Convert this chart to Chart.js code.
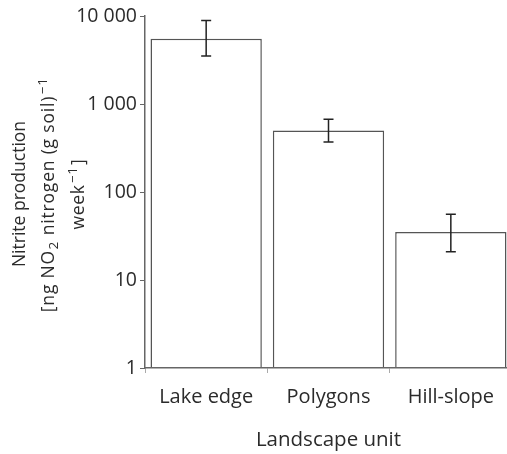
<!DOCTYPE html>
<html>
<head>
<meta charset="utf-8">
<script src="https://cdn.jsdelivr.net/npm/chart.js@4.4.1/dist/chart.umd.min.js"></script>
<style>
    html, body { margin: 0; padding: 0; background: #fff; overflow: hidden; }
    #wrap { width: 512px; height: 454px; position: relative; }
</style>
</head>
<body>
<div id="wrap"><canvas id="chart"></canvas></div>
<script>
// Landscape units and nitrite production (log scale)
const units = ['Lake edge', 'Polygons', 'Hill-slope'];
const nitrite = [5500, 500, 35];
const errLow = [3500, 370, 21];
const errHigh = [8900, 670, 56];
const yTicks = [1, 10, 100, 1000, 10000];
const yTickLabels = ['1', '10', '100', '1 000', '10 000'];
// y title lines, split into [text, kind] so the sub/superscripts can be drawn small
const yTitleLines = [
    [['Nitrite production', 'n']],
    [['[ng NO', 'n'], ['2', 'sub'], [' nitrogen (g soil)', 'n'], ['\u22121', 'sup']],
    [['week', 'n'], ['\u22121', 'sup'], [']', 'n']]
];

const ink = '#2b2b2b';
const axisGrey = '#666';
const font = "'Open Sans', 'DejaVu Sans', sans-serif";

// whiskers drawn through the y scale
const errorBars = {
    id: 'errorBars',
    afterDatasetsDraw(chart) {
        const { ctx, scales } = chart;
        const meta = chart.getDatasetMeta(0);
        ctx.save();
        ctx.strokeStyle = '#222';
        ctx.lineWidth = 1.5;
        meta.data.forEach((bar, i) => {
            const x = bar.x;
            const yLo = scales.y.getPixelForValue(errLow[i]);
            const yHi = scales.y.getPixelForValue(errHigh[i]);
            ctx.beginPath();
            ctx.moveTo(x, yLo);
            ctx.lineTo(x, yHi);
            ctx.moveTo(x - 5, yLo);
            ctx.lineTo(x + 5, yLo);
            ctx.moveTo(x - 5, yHi);
            ctx.lineTo(x + 5, yHi);
            ctx.stroke();
        });
        ctx.restore();
    }
};

// rotated y title with real subscript / superscript
const yTitle = {
    id: 'yTitle',
    afterDraw(chart) {
        const { ctx, chartArea } = chart;
        const mainFont = '17.5px ' + font;
        const smallFont = '13.5px ' + font;
        const cy = (chartArea.top + chartArea.bottom) / 2 + 2;
        const lineX = [25, 54, 84];
        const spacing = ['0px', '0.8px', '0.6px'];
        const pad = { n: 0, sub: 0.5, sup: 1.5 };
        ctx.save();
        ctx.fillStyle = ink;
        ctx.textBaseline = 'alphabetic';
        ctx.textAlign = 'left';
        yTitleLines.forEach((segs, li) => {
            ctx.letterSpacing = spacing[li];
            const widths = segs.map(([t, k]) => {
                ctx.font = k === 'n' ? mainFont : smallFont;
                return ctx.measureText(t).width + 2 * pad[k];
            });
            const total = widths.reduce((a, b) => a + b, 0);
            ctx.save();
            ctx.translate(lineX[li], cy);
            ctx.rotate(-Math.PI / 2);
            let x = -total / 2;
            segs.forEach(([t, k], si) => {
                ctx.font = k === 'n' ? mainFont : smallFont;
                const dy = k === 'sub' ? 4 : k === 'sup' ? -7 : 0;
                ctx.fillText(t, x + pad[k], dy);
                x += widths[si];
            });
            ctx.restore();
        });
        ctx.restore();
    }
};

new Chart(document.getElementById('chart'), {
    type: 'bar',
    data: {
        labels: units,
        datasets: [{
            data: nitrite,
            backgroundColor: '#fff',
            borderColor: '#555',
            borderWidth: 1.5,
            barPercentage: 0.91,
            categoryPercentage: 1
        }]
    },
    options: {
        responsive: true,
        maintainAspectRatio: false,
        animation: false,
        layout: { padding: { top: 16, left: 0, right: 0, bottom: 0 } },
        plugins: {
            legend: { display: false },
            tooltip: { enabled: false }
        },
        scales: {
            x: {
                afterFit(scale) { scale.height = 86; },
                border: { color: axisGrey, width: 1.5, z: 1 },
                grid: {
                    offset: true,
                    drawOnChartArea: false,
                    drawTicks: true,
                    tickLength: 5,
                    color: '#aaa'
                },
                ticks: {
                    color: ink,
                    padding: 12,
                    font: { family: font, size: 20 }
                },
                title: {
                    display: true,
                    text: 'Landscape unit',
                    color: ink,
                    font: { family: font, size: 20.5 },
                    padding: { top: 0, bottom: 2 }
                }
            },
            y: {
                type: 'logarithmic',
                min: 1,
                max: 10000,
                afterFit(scale) { scale.width = 145; },
                afterBuildTicks(scale) {
                    scale.ticks = yTicks.map((v) => ({ value: v }));
                },
                border: { color: axisGrey, width: 1.5, z: 1 },
                grid: {
                    drawOnChartArea: false,
                    drawTicks: true,
                    tickLength: 5,
                    color: axisGrey
                },
                ticks: {
                    color: ink,
                    padding: 3,
                    font: { family: font, size: 19.5 },
                    callback(v) {
                        const i = yTicks.indexOf(v);
                        return i >= 0 ? yTickLabels[i] : '';
                    }
                },
                title: { display: false }
            }
        }
    },
    plugins: [errorBars, yTitle]
});
</script>
</body>
</html>
